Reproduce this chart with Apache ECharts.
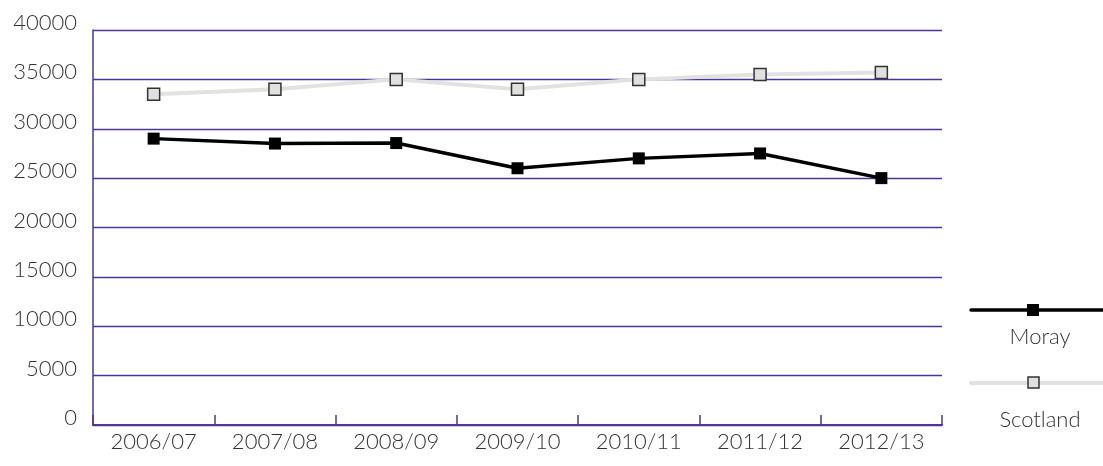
<!DOCTYPE html>
<html><head><meta charset="utf-8">
<script src="https://cdn.jsdelivr.net/npm/echarts@6/dist/echarts.min.js"></script>
<style>html,body{margin:0;padding:0;background:#fff}#c{width:1103px;height:466px}</style>
</head><body><div id="c"></div>
<script>
const categories = ['2006/07','2007/08','2008/09','2009/10','2010/11','2011/12','2012/13'];
const moray = [29000, 28500, 28550, 26000, 27000, 27500, 25000];
const scotland = [33500, 34000, 35000, 34000, 35000, 35500, 35700];
const yTicks = {min: 0, max: 40000, interval: 5000};
const seriesNames = ['Moray', 'Scotland'];

const purple = '#4e3498';
const font = 'Lato';
const chart = echarts.init(document.getElementById('c'));
chart.setOption({
  animation: false,
  grid: {left: 93, right: 161, top: 30, bottom: 41},
  xAxis: {
    type: 'category', data: categories, boundaryGap: true,
    axisLine: {lineStyle: {color: purple, width: 2}},
    axisTick: {show: true, inside: true, length: 10, lineStyle: {color: purple, width: 1.5}},
    axisLabel: {color: '#333', fontSize: 22, fontFamily: font, fontWeight: 300, margin: 6}
  },
  yAxis: {
    type: 'value', min: yTicks.min, max: yTicks.max, interval: yTicks.interval,
    axisLine: {show: true, lineStyle: {color: purple, width: 1.5}},
    axisTick: {show: false},
    splitLine: {lineStyle: {color: purple, width: 1.3}},
    axisLabel: {color: '#333', fontSize: 22, fontFamily: font, fontWeight: 300, margin: 16,
      verticalAlign: 'bottom', lineHeight: 14, formatter: v => String(v)}
  },
  series: [
    {name: seriesNames[0], type: 'line', data: moray, symbol: 'rect', symbolSize: 12,
     lineStyle: {color: '#000', width: 3.5}, itemStyle: {color: '#000'}, z: 3},
    {name: seriesNames[1], type: 'line', data: scotland, symbol: 'rect', symbolSize: 12,
     lineStyle: {color: '#e2e2e2', width: 4},
     itemStyle: {color: '#e0e0e0', borderColor: '#333', borderWidth: 1.5}, z: 2}
  ],
  graphic: [
    {type: 'line', shape: {x1: 971, y1: 310, x2: 1103, y2: 310}, style: {stroke: '#000', lineWidth: 3.5, lineCap: 'round'}},
    {type: 'rect', shape: {x: 1027, y: 304, width: 12, height: 12}, style: {fill: '#000'}},
    {type: 'text', style: {text: seriesNames[0], x: 1040, y: 337, align: 'center', verticalAlign: 'middle', fill: '#333', font: '300 22px Lato'}},
    {type: 'line', shape: {x1: 971, y1: 383, x2: 1103, y2: 383}, style: {stroke: '#e2e2e2', lineWidth: 4, lineCap: 'round'}},
    {type: 'rect', shape: {x: 1028, y: 377, width: 11, height: 11}, style: {fill: '#e0e0e0', stroke: '#333', lineWidth: 1.5}},
    {type: 'text', style: {text: seriesNames[1], x: 1040, y: 420, align: 'center', verticalAlign: 'middle', fill: '#333', font: '300 22px Lato'}}
  ]
});
</script></body></html>
